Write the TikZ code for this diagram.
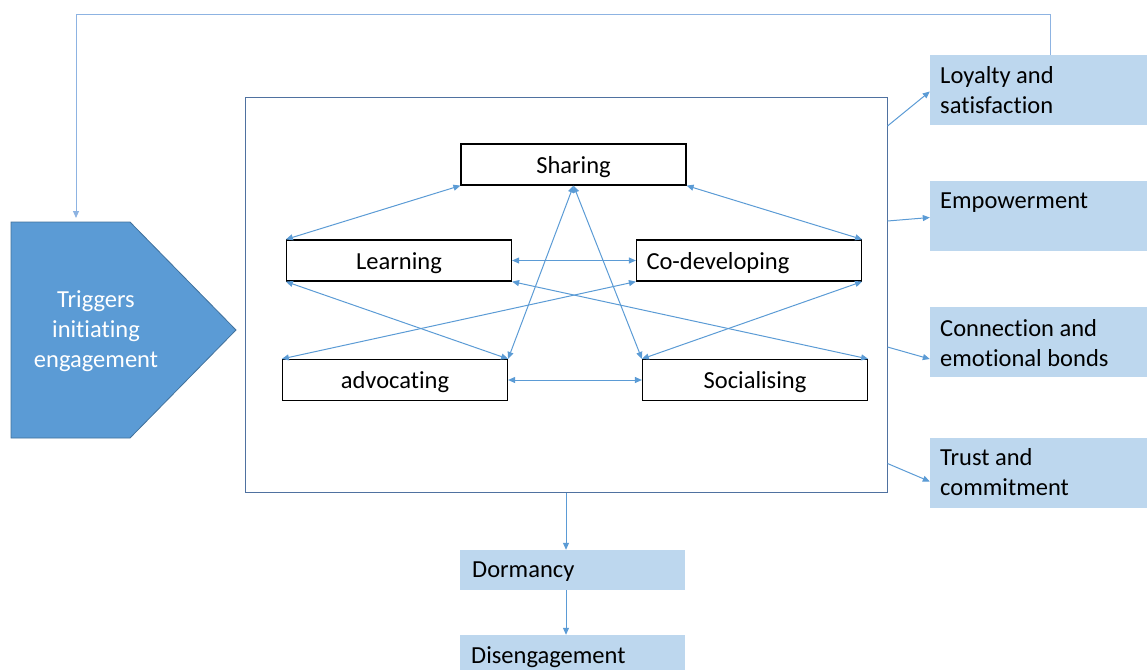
\documentclass[tikz,border=0pt]{standalone}
\usepackage{fontspec}
\setmainfont{Carlito}[Ligatures={NoCommon}]
\usetikzlibrary{arrows.meta,calc}
\definecolor{arr}{HTML}{5B9BD5}
\definecolor{lightbox}{HTML}{BDD7EE}
\definecolor{fbline}{HTML}{8DB3E2}
\definecolor{frame}{HTML}{4F71A0}
\definecolor{pent}{HTML}{5B9BD5}
\definecolor{pentedge}{HTML}{41719C}
\begin{document}
\begin{tikzpicture}[x=1pt,y=-1pt,
  font=\fontsize{24.5}{30}\selectfont,
  act/.style={draw=black, line width=1.2pt, minimum width=225pt, minimum height=41pt, inner sep=0pt, text height=19pt, text depth=2pt},
  outbox/.style={fill=lightbox, minimum width=217pt, minimum height=70pt, inner sep=0pt},
  botbox/.style={fill=lightbox, minimum width=225pt, minimum height=40pt, inner sep=0pt},
  lab/.style={anchor=north west, inner sep=0pt, align=left},
  dbl/.style={draw=arr, line width=1pt, {Triangle[length=7pt,width=6pt]}-{Triangle[length=7pt,width=6pt]}},
  sgl/.style={draw=arr, line width=1pt, -{Triangle[length=7pt,width=6pt]}},
]
\useasboundingbox (0,0) rectangle (1147,669);

% trigger pentagon
\draw[fill=pent, draw=pentedge, line width=0.8pt] (11,222) -- (130,222) -- (236,330) -- (130,438) -- (11,438) -- cycle;
\node[text=white, align=center] (trig) at (96,331) {Triggers\\initiating\\engagement};
\coordinate (trigtop) at (76,222);
\coordinate (fbtop) at (76,15);

% main frame
\node[draw=frame, line width=1pt, minimum width=642pt, minimum height=395pt, inner sep=0pt] (main) at (566,294.5) {};

% activity boxes
\node[act] (sharing) at (573.5,164.5) {Sharing};
\node[act] (learning) at (399,260.5) {Learning};
\node[act, text width=205pt, align=left, inner xsep=10pt, minimum width=225pt] (codev) at (749,260.5) {Co-developing};
\node[act] (advocating) at (395,380) {advocating};
\node[act] (socialising) at (755,380) {Socialising};

% interior connectors
\draw[dbl] (sharing.south west) -- (learning.north west);
\draw[dbl] (sharing.south east) -- (codev.north east);
\draw[dbl] (sharing.south) -- (advocating.north east);
\draw[dbl] (sharing.south) -- (socialising.north west);
\draw[dbl] (learning.east) -- (codev.west);
\draw[dbl] (learning.south west) -- (advocating.north east);
\draw[dbl] (learning.south east) -- (socialising.north east);
\draw[dbl] (codev.south west) -- (advocating.north west);
\draw[dbl] (codev.south east) -- (socialising.north west);
\draw[dbl] (advocating.east) -- (socialising.west);

% outcome boxes
\node[outbox] (loyal) at (1038.5,90) {};
\node[lab] (loyalT) at (940,65.8) {Loyalty and\\satisfaction};
\node[outbox] (emp) at (1038.5,216) {};
\node[lab] (empT) at (940,193) {Empowerment};
\node[outbox] (conn) at (1038.5,342) {};
\node[lab] (connT) at (940,318.8) {Connection and\\emotional bonds};
\node[outbox] (trust) at (1038.5,472.5) {};
\node[lab] (trustT) at (940,448.5) {Trust and\\commitment};

\draw[sgl] ([yshift=168.5pt]main.east) -- ([yshift=-1.5pt]loyal.west);
\draw[sgl] ([yshift=73.5pt]main.east) -- ([yshift=-1.5pt]emp.west);
\draw[sgl] ([yshift=-52.5pt]main.east) -- ([yshift=-17pt]conn.west);
\draw[sgl] ([yshift=-169pt]main.east) -- ([yshift=-9pt]trust.west);

% feedback loop
\draw[draw=fbline, line width=1pt, -{Triangle[length=7pt,width=6pt]}, shorten >=4pt] ([xshift=11.5pt]loyal.north) |- (fbtop) -- (trigtop);

% bottom boxes
\node[botbox] (dorm) at (572.5,570) {};
\node[lab] (dormT) at (472,562) {Dormancy};
\node[botbox] (dis) at (572,655) {};
\node[lab] (disT) at (471,646.5) {Disengagement};

\draw[sgl] (main.south) -- (main.south |- dorm.north);
\draw[sgl] (dorm.south -| main.south) -- (dis.north -| main.south);
\end{tikzpicture}
\end{document}
